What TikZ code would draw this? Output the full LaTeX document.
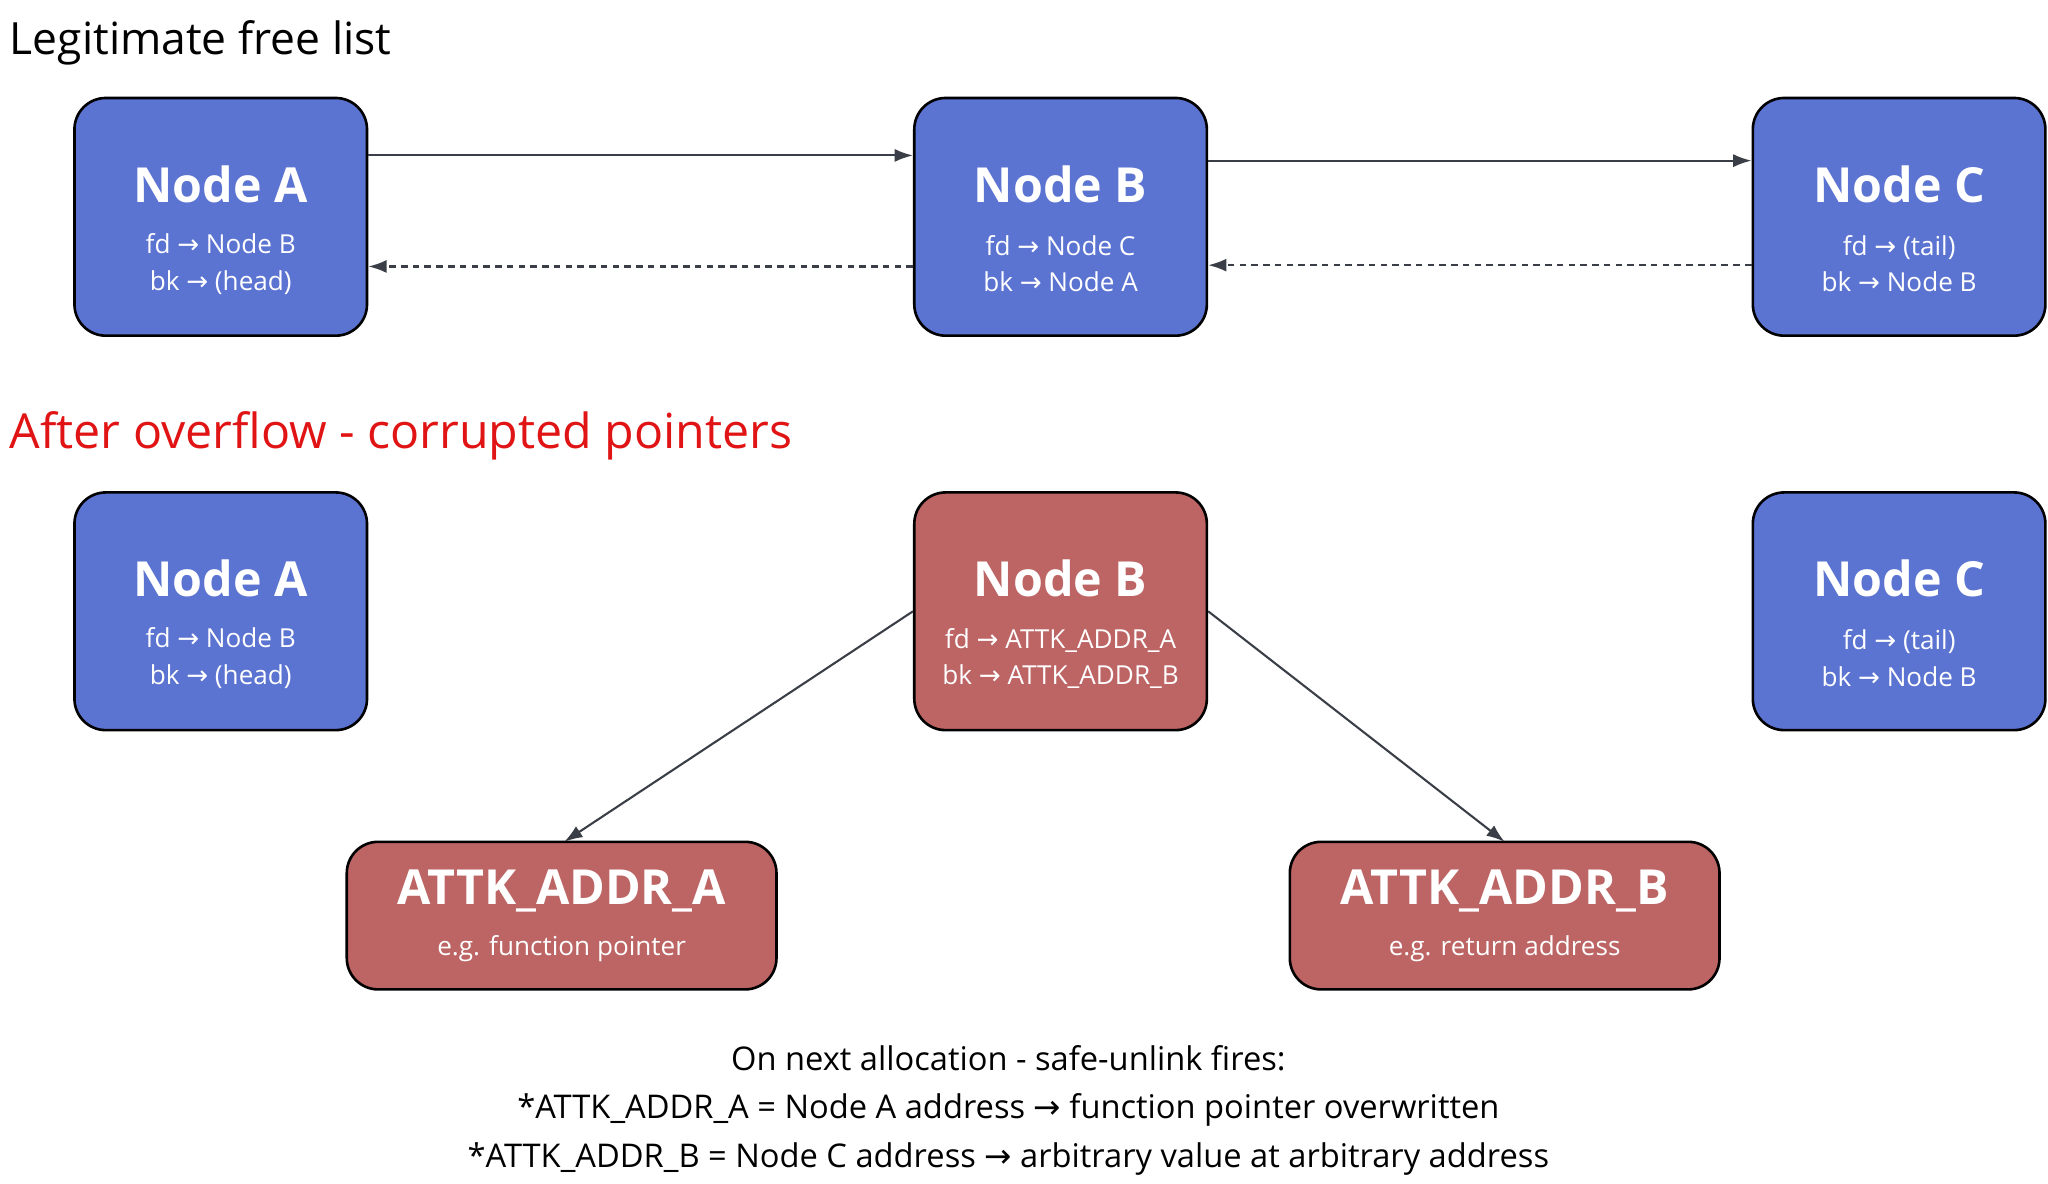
\documentclass[tikz,border=0pt]{standalone}
\usepackage{fontspec}
\setmainfont{Open Sans}
\newfontfamily\djv{DejaVu Sans}
\newcommand{\ra}{{\djv →}}
\usetikzlibrary{arrows.meta}
\definecolor{nblue}{HTML}{5B73D1}
\definecolor{nred}{HTML}{BD6464}
\definecolor{ar}{HTML}{3A3F47}
\begin{document}
\begin{tikzpicture}[x=1pt,y=-1pt,
 box/.style={draw=black,line width=2pt,rounded corners=24pt,fill=#1,text=white,align=center,inner sep=0pt},
 ttl/.style={font=\fontsize{37}{44}\selectfont\bfseries},
 sub/.style={font=\fontsize{20}{30}\selectfont},
 conn/.style={ar,line width=1.6pt,-{Latex[length=14pt,width=10pt]}},
 dconn/.style={conn,dash pattern=on 5pt off 4pt}]
\useasboundingbox (0,0) rectangle (1568,906);
\node[anchor=base west,font=\fontsize{34}{40}\selectfont] (t1) at (4,42) {Legitimate free list};
\node[anchor=base west,font=\fontsize{37}{44}\selectfont,text={rgb,255:red,224;green,20;blue,20}] (t2) at (4,343) {After overflow - corrupted pointers};
\node[box=nblue,minimum width=224pt,minimum height=182pt] (a1) at (169,166) {};
\node[box=nblue,minimum width=224pt,minimum height=182pt] (b1) at (812,166) {};
\node[box=nblue,minimum width=224pt,minimum height=182pt] (c1) at (1454,166) {};
\node[box=nblue,minimum width=224pt,minimum height=182pt] (a2) at (169,468) {};
\node[box=nred,minimum width=224pt,minimum height=182pt] (b2) at (812,468) {};
\node[box=nblue,minimum width=224pt,minimum height=182pt] (c2) at (1454,468) {};
\node[box=nred,minimum width=329pt,minimum height=113pt] (xa) at (430,701) {};
\node[box=nred,minimum width=329pt,minimum height=113pt] (xb) at (1152,701) {};
\foreach \n/\t/\f/\k in {a1/Node A/Node B/(head), b1/Node B/Node C/Node A, c1/Node C/(tail)/Node B, a2/Node A/Node B/(head), c2/Node C/(tail)/Node B}{
 \node[ttl,text=white] (\n t) at ([yshift=25pt]\n.center) {\t};
 \node[sub,text=white,align=center] (\n s) at ([yshift=-36pt]\n.center) {fd \ra\ \f\\[-2pt]bk \ra\ \k};
}
\node[ttl,text=white] (b2t) at ([yshift=25pt]b2.center) {Node B};
\node[sub,text=white,align=center] (b2s) at ([yshift=-36pt]b2.center) {fd \ra\ ATTK\_ADDR\_A\\[-2pt]bk \ra\ ATTK\_ADDR\_B};
\node[ttl,text=white] (xat) at ([yshift=19pt]xa.center) {ATTK\_ADDR\_A};
\node[sub,text=white] (xas) at ([yshift=-25pt]xa.center) {e.g. function pointer};
\node[ttl,text=white] (xbt) at ([yshift=19pt]xb.center) {ATTK\_ADDR\_B};
\node[sub,text=white] (xbs) at ([yshift=-25pt]xb.center) {e.g. return address};
\draw[conn] ([yshift=47pt]a1.east) -- ([yshift=47pt]b1.west);
\draw[dconn] ([yshift=-38pt]b1.west) -- ([yshift=-38pt]a1.east);
\draw[conn] ([yshift=43pt]b1.east) -- ([yshift=43pt]c1.west);
\draw[dconn] ([yshift=-37pt]c1.west) -- ([yshift=-37pt]b1.east);
\draw[conn] (b2.west) -- ([xshift=2pt,yshift=-1pt]xa.north);
\draw[conn] (b2.east) -- ([yshift=-1pt]xb.north);
\node[font=\fontsize{25}{37}\selectfont,align=center] (note) at (772,850) {On next allocation - safe-unlink fires:\\ *ATTK\_ADDR\_A = Node A address \ra\ function pointer overwritten\\ *ATTK\_ADDR\_B = Node C address \ra\ arbitrary value at arbitrary address};
\end{tikzpicture}
\end{document}
